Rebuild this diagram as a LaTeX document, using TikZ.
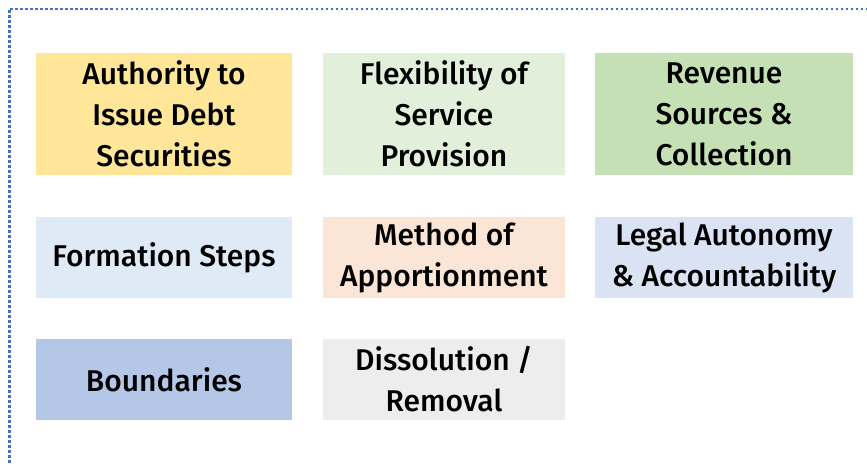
\documentclass[tikz,border=0pt]{standalone}
\usepackage{fontspec}
\setmainfont{Fira Sans}[UprightFont={* Medium}]
\usepackage{xcolor}
\definecolor{frameblue}{RGB}{68,114,196}
\definecolor{debtyellow}{RGB}{255,230,153}
\definecolor{flexgreen}{RGB}{226,239,218}
\definecolor{revgreen}{RGB}{197,224,180}
\definecolor{formblue}{RGB}{222,235,247}
\definecolor{methpeach}{RGB}{251,229,214}
\definecolor{legallav}{RGB}{218,227,243}
\definecolor{boundblue}{RGB}{180,199,231}
\definecolor{dissgrey}{RGB}{237,237,237}

\tikzset{
  topic/.style={minimum height=81pt, inner sep=0pt, align=center,
    font=\fontsize{30}{41}\selectfont},
  tall/.style={minimum height=122pt}
}

\begin{document}
\begin{tikzpicture}[x=1pt, y=-1pt]

        \useasboundingbox (0, 0) rectangle (867, 463);
        \draw[frameblue, line width=2.8pt, dash pattern=on 2.6pt off 2.4pt] (9.5, 463) -- (9.5, 9) -- (867, 9);

        \node[topic, tall, fill=debtyellow, minimum width=256pt] (debt) at (164, 114) {Authority to\\Issue Debt\\Securities};
        \node[topic, tall, fill=flexgreen, minimum width=242pt] (flex) at (444, 114) {Flexibility of\\Service\\Provision};
        \node[topic, tall, fill=revgreen, minimum width=258pt] (revenue) at (724, 114) {Revenue\\Sources \&\\Collection};

        \node[topic, fill=formblue, minimum width=256pt] (formation) at (164, 257.5) {Formation Steps};
        \node[topic, fill=methpeach, minimum width=242pt] (method) at (444, 257.5) {Method of\\Apportionment};
        \node[topic, fill=legallav, minimum width=258pt] (legal) at (724, 257.5) {Legal Autonomy\\\& Accountability};

        \node[topic, fill=boundblue, minimum width=256pt] (bounds) at (164, 379.5) {Boundaries};
        \node[topic, fill=dissgrey, minimum width=242pt] (dissolve) at (444, 379.5) {Dissolution /\\Removal};

\end{tikzpicture}
\end{document}
